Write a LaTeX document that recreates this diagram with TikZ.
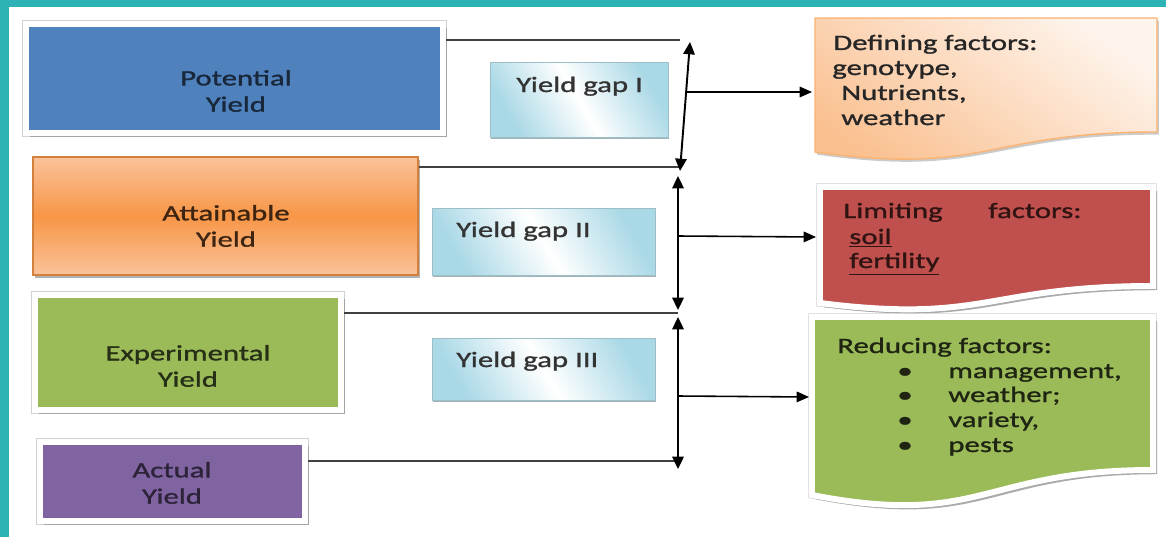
\documentclass[tikz,border=0pt]{standalone}
\usepackage{fontspec}
\setmainfont{Carlito}[FakeStretch=1.4, FakeBold=1.2]
\usetikzlibrary{positioning}
\usetikzlibrary{arrows.meta}
\usetikzlibrary{shadows}
\definecolor{frameteal}{HTML}{2DB3B6}
\definecolor{potblue}{HTML}{4F81BD}
\definecolor{attorange}{HTML}{F79646}
\definecolor{attlight}{HTML}{FAC29A}
\definecolor{expgreen}{HTML}{9BBB59}
\definecolor{actpurple}{HTML}{8064A2}
\definecolor{limred}{HTML}{C0504D}
\definecolor{gapblue}{HTML}{A9D8E6}
\definecolor{defpeach}{HTML}{FAC090}
\definecolor{deflight}{HTML}{FEF4EC}

\begin{document}
\begin{tikzpicture}[x=0.02cm, y=-0.02cm,
  every node/.style={font=\fontsize{12.5}{15}\selectfont},
  yieldbox/.style={inner sep=0pt, draw=white, line width=3.4pt,
    preaction={draw=black!18, line width=4.2pt},
    drop shadow={shadow xshift=2.4pt, shadow yshift=-2.4pt, fill=black!40, opacity=0.8}},
  gapbox/.style={inner sep=0pt, draw=gapblue!70!gray, line width=0.5pt,
    left color=gapblue, right color=gapblue, middle color=white, shading angle=120,
    drop shadow={shadow xshift=0.8pt, shadow yshift=-1.2pt, fill=gapblue!60!black, opacity=0.6}},
  docbox/.style={draw=white, line width=3.4pt,
    preaction={draw=black!18, line width=4.2pt},
    drop shadow={shadow xshift=2.4pt, shadow yshift=-2.4pt, fill=black!40, opacity=0.8}},
  link/.style={draw=black!75, line width=0.6pt},
  gaparrow/.style={{Triangle[length=7pt,width=6.5pt]}-{Triangle[length=7pt,width=6.5pt]}, line width=1.1pt},
  toarrow/.style={-{Triangle[length=7pt,width=6pt]}, line width=0.9pt},
  lefttext/.style={anchor=base west, inner sep=0pt},
  midtext/.style={align=center, inner sep=0pt},
]

\useasboundingbox (0,0) rectangle (1166,537);
\fill[white] (0,0) rectangle (1166,537);
\fill[frameteal] (0,0) rectangle (1166,7);
\fill[frameteal] (0,0) rectangle (9,537);

% yield levels
\node[yieldbox, fill=potblue, minimum width=8.34cm, minimum height=2.18cm] (pot) at (234.5,78.5) {};
\node[inner sep=0pt, draw=attorange!85!black, line width=0.8pt, top color=attlight, bottom color=attlight, middle color=attorange,
  drop shadow={shadow xshift=1pt, shadow yshift=-1.5pt, fill=black!50, opacity=0.6},
  minimum width=7.7cm, minimum height=2.36cm] (att) at (225.5,216) {};
\node[yieldbox, fill=expgreen, minimum width=6.12cm, minimum height=2.3cm] (exp) at (188,352.5) {};
\node[yieldbox, fill=actpurple, minimum width=5.3cm, minimum height=1.58cm] (act) at (172.5,481.5) {};

\node[midtext, text=potblue!30!black] (potlbl) at (236,91) {Potential\\Yield};
\node[midtext, text=attorange!25!black] (attlbl) at (226,226) {Attainable\\Yield};
\node[midtext, text=expgreen!25!black] (explbl) at (188,366) {Experimental\\Yield};
\node[midtext, text=actpurple!35!black] (actlbl) at (172,483) {Actual\\Yield};

% gaps
\node[gapbox, minimum width=3.56cm, minimum height=1.5cm] (gap1) at (579,99.5) {};
\node[gapbox, minimum width=4.46cm, minimum height=1.34cm] (gap2) at (543.5,241.5) {};
\node[gapbox, minimum width=4.46cm, minimum height=1.24cm] (gap3) at (543.5,369) {};
\node[lefttext, text=black!80] (gap1lbl) at (516,92) {Yield gap I};
\node[lefttext, text=black!80] (gap2lbl) at (456,237) {Yield gap II};
\node[lefttext, text=black!80] (gap3lbl) at (456,367) {Yield gap III};

% axis
\coordinate (e1) at (680,40);
\coordinate (e2) at (680,167);
\coordinate (e3) at (678,313);
\coordinate (e4) at (678,461);
\draw[link] (pot.east |- e1) -- (e1);
\draw[link] (att.east |- e2) -- (e2);
\draw[link] (exp.east |- e3) -- (e3);
\draw[link] (act.east |- e4) -- (e4);

\coordinate (t1) at (690,42);
\coordinate (b1) at (680,171);
\coordinate (t2) at (678,176);
\coordinate (b2) at (678,310);
\coordinate (t3) at (678,317);
\coordinate (b3) at (678,469);
\draw[gaparrow] (t1) -- (b1);
\draw[gaparrow] (t2) -- (b2);
\draw[gaparrow] (t3) -- (b3);

% factors
\draw[draw=defpeach!80!orange, line width=0.8pt, top color=deflight, bottom color=defpeach, shading angle=-35,
  drop shadow={shadow xshift=1pt, shadow yshift=-1.5pt, fill=black!40, opacity=0.5}]
  (815,18) -- (1157,18) -- (1157,132) .. controls (986,132) and (986,176) .. (815,152) -- cycle;
\draw[docbox, fill=limred]
  (820,187) -- (1153,187) -- (1153,286) .. controls (986,286) and (986,324) .. (820,303) -- cycle;
\draw[docbox, fill=expgreen]
  (812,317) -- (1153,317) -- (1153,470) .. controls (982,470) and (982,528) .. (812,495) -- cycle;

\coordinate (m1) at (686,92);
\coordinate (defin) at (812,92);
\coordinate (m2) at (678,236);
\coordinate (limin) at (816,237);
\coordinate (m3) at (678,396);
\coordinate (redin) at (809,397);
\draw[toarrow] (m1) -- (defin);
\draw[toarrow] (m2) -- (limin);
\draw[toarrow] (m3) -- (redin);

\node[lefttext, text=black!85] (def1) at (833,50) {Defining factors:};
\node[lefttext, text=black!85] (def2) at (832,75) {genotype,};
\node[lefttext, text=black!85] (def3) at (841,100) {Nutrients,};
\node[lefttext, text=black!85] (def4) at (841,125) {weather};

\node[lefttext, text=limred!25!black] (lim1) at (843,218) {Limiting\hspace{26pt}factors:};
\node[lefttext, text=limred!25!black] (lim2) at (849,244) {\underline{soil}};
\node[lefttext, text=limred!25!black] (lim3) at (849,268) {\underline{fertility}};

\node[lefttext, text=expgreen!20!black] (red0) at (837,353) {Reducing factors:};
\foreach \w/\yy [count=\i] in {{management,}/378, {weather;}/402, {variety,}/427, {pests}/452}
{
\node[lefttext, text=expgreen!20!black] (bul\i) at (897,\yy) {•};
\node[lefttext, text=expgreen!20!black] (red\i) at (948,\yy) {\w};
}

\end{tikzpicture}
\end{document}
